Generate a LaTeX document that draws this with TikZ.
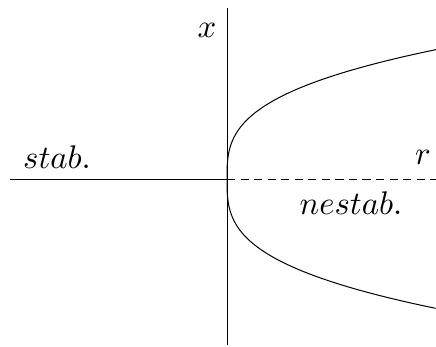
\documentclass[tikz,border=0pt]{standalone}
\begin{document}
\begin{tikzpicture}[x=0.3175pt,y=-0.3175pt,
  axis/.style={line width=0.32pt},
  lbl/.style={inner sep=0pt,scale=1.04},
  dsh/.style={line width=0.32pt,dash pattern=on 2.6pt off 1.7pt}]
\useasboundingbox (0,0) rectangle (436,346);
\coordinate (O) at (227,179);
\coordinate (L) at (10,179);
\coordinate (R) at (436,179);
\coordinate (T) at (227,8);
\coordinate (B) at (227,345);
\draw[axis] (L) -- (O);
\draw[dsh] (O) -- (R);
\draw[axis] (T) -- (B);
\draw[axis] plot[domain=-1.295:1.295,samples=201,smooth] ({227+96.5*abs(\x)*(\x)^2},{179+100*\x});
\node[lbl] (xl) at (207,30) {$x$};
\node[lbl] (rl) at (423,157) {$r$};
\node[lbl] (sl) at (57,157) {$stab.$};
\node[lbl] (nl) at (351,203) {$nestab.$};
\end{tikzpicture}
\end{document}
